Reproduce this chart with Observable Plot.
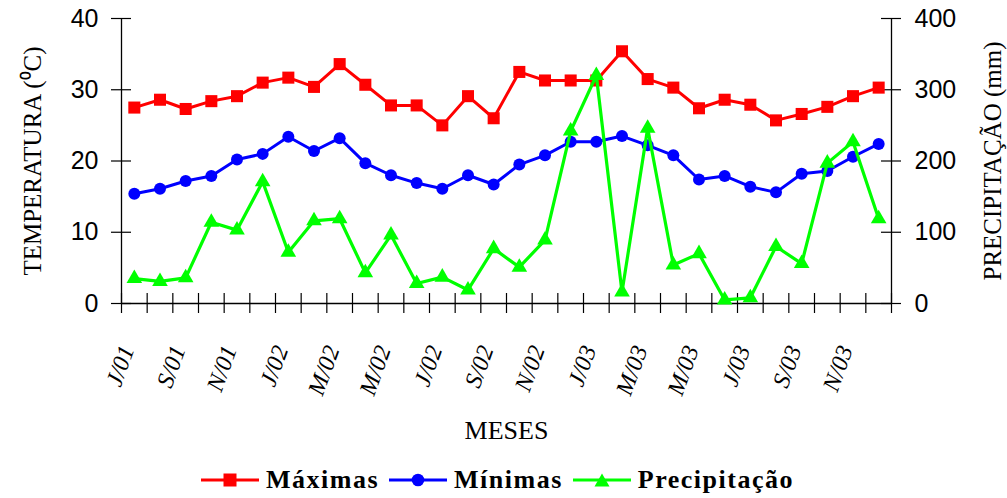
<!DOCTYPE html>
<html><head><meta charset="utf-8">
<script src="https://cdn.jsdelivr.net/npm/d3@7"></script>
<script src="https://cdn.jsdelivr.net/npm/@observablehq/plot@0.6"></script>
<style>
body{margin:0;background:#fff;}
#chart svg{display:block;overflow:visible;}
#legend{display:flex;justify-content:center;align-items:center;height:36px;font-family:"Liberation Serif","Times New Roman",serif;font-weight:bold;font-size:26px;letter-spacing:1.5px;color:#000;padding-right:12px;}
#legend .item{display:flex;align-items:center;margin:0 5px;}
#legend svg{margin-right:7px;}
</style></head><body><div id="chart"></div><div id="legend"></div>
<script>
const months = ["Jul/01","Ago/01","Set/01","Out/01","Nov/01","Dez/01","Jan/02","Fev/02","Mar/02","Abr/02","Mai/02","Jun/02","Jul/02","Ago/02","Set/02","Out/02","Nov/02","Dez/02","Jan/03","Fev/03","Mar/03","Abr/03","Mai/03","Jun/03","Jul/03","Ago/03","Set/03","Out/03","Nov/03","Dez/03"];
const tickLabels = ["J/01","S/01","N/01","J/02","M/02","M/02","J/02","S/02","N/02","J/03","M/03","M/03","J/03","S/03","N/03"];
const maximas = [27.5,28.6,27.3,28.4,29.1,31.0,31.7,30.4,33.6,30.7,27.8,27.8,25.0,29.1,26.0,32.5,31.3,31.3,31.3,35.4,31.5,30.3,27.4,28.6,27.9,25.7,26.6,27.6,29.1,30.3];
const minimas = [15.4,16.1,17.2,17.9,20.2,21.0,23.4,21.4,23.2,19.7,18.0,16.9,16.1,18.0,16.7,19.5,20.8,22.7,22.7,23.5,22.2,20.8,17.4,17.9,16.4,15.6,18.2,18.6,20.6,22.4];
const precipitacao = [35,31,36,114,103,171,72,116,119,43,96,28,37,19,77,51,89,242,320,16,246,54,70,5,8,80,56,197,227,119];
const tempTicks = [0,10,20,30,40];
const precTicks = [0,100,200,300,400];
const seriesNames = ["Máximas","Mínimas","Precipitação"];
const seriesColors = ["#FF0000","#0000FF","#00FF00"];
const seriesSymbols = ["square","circle","triangle"];

const rows = months.map((m,i)=>({i, m, max:maximas[i], min:minimas[i], prec:precipitacao[i]/10}));
const bounds = d3.range(0, months.length+1).map(k=>k-0.5);
const labelIdx = tickLabels.map((_,k)=>k*2);
const serif = "Liberation Serif, Times New Roman, serif";
const sans = "Liberation Sans, Arial, sans-serif";

const chart = Plot.plot({
  width: 1007, height: 462,
  marginLeft: 121, marginRight: 116, marginTop: 18, marginBottom: 159,
  x: {type:"linear", domain:[-0.5, months.length-0.5]},
  y: {domain:[0,40]},
  style: {background:"#fff", color:"#000"},
  marks: [
    Plot.ruleX([-0.5, months.length-0.5], {stroke:"#000", strokeWidth:1.3}),
    Plot.ruleY([0], {stroke:"#000", strokeWidth:1.3}),
    Plot.ruleX(bounds, {x:d=>d, y1:0, y2:0, insetTop:-10, insetBottom:-10, stroke:"#000", strokeWidth:1.2}),
    Plot.ruleY(tempTicks, {y:d=>d, x1:-0.5, x2:-0.5, insetLeft:-10, insetRight:-10, stroke:"#000", strokeWidth:1.2}),
    Plot.ruleY(tempTicks, {y:d=>d, x1:months.length-0.5, x2:months.length-0.5, insetLeft:-10, insetRight:-10, stroke:"#000", strokeWidth:1.2}),
    Plot.axisY({anchor:"left", ticks:tempTicks, tickSize:0, tickPadding:23, fontSize:25, fontFamily:sans, label:null}),
    Plot.axisY({anchor:"right", ticks:tempTicks, tickSize:0, tickPadding:23, fontSize:25, fontFamily:sans, tickFormat:d=>String(precTicks[tempTicks.indexOf(d)]), label:null}),
    Plot.axisX({ticks:labelIdx, tickSize:0, tickPadding:43, tickRotate:-70, fontSize:24, fontFamily:serif, fontStyle:"italic", tickFormat:d=>tickLabels[d/2], label:null, dx:-7}),
    Plot.text(["TEMPERATURA (⁰C)"], {frameAnchor:"left", dx:-89, rotate:-90, fontSize:25, fontFamily:serif, textAnchor:"middle", lineAnchor:"middle"}),
    Plot.text(["PRECIPITAÇÃO (mm)"], {frameAnchor:"right", dx:101, rotate:-90, fontSize:25, fontFamily:serif, textAnchor:"middle", lineAnchor:"middle"}),
    Plot.text(["MESES"], {frameAnchor:"bottom", dy:127, fontSize:26, fontFamily:serif, lineAnchor:"middle"}),
    Plot.line(rows, {x:"i", y:"max", stroke:seriesColors[0], strokeWidth:3}),
    Plot.dot(rows, {x:"i", y:"max", symbol:seriesSymbols[0], r:6.8, fill:seriesColors[0], stroke:"none"}),
    Plot.line(rows, {x:"i", y:"min", stroke:seriesColors[1], strokeWidth:3}),
    Plot.dot(rows, {x:"i", y:"min", symbol:seriesSymbols[1], r:6, fill:seriesColors[1], stroke:"none"}),
    Plot.line(rows, {x:"i", y:"prec", stroke:seriesColors[2], strokeWidth:3.2}),
    Plot.dot(rows, {x:"i", y:"prec", symbol:seriesSymbols[2], r:5.8, fill:seriesColors[2], stroke:"none"})
  ]
});
document.getElementById("chart").appendChild(chart);

const legend = document.getElementById("legend");
const shapes = {
  square: c=>`<rect x="22.5" y="0.5" width="13" height="13" fill="${c}"/>`,
  circle: c=>`<circle cx="29" cy="7" r="6.3" fill="${c}"/>`,
  triangle: c=>`<path d="M29,0.5 L36.5,13.5 L21.5,13.5 Z" fill="${c}"/>`
};
seriesNames.forEach((name,k)=>{
  const item = document.createElement("div");
  item.className = "item";
  item.innerHTML = `<svg width="58" height="14"><line x1="0" x2="58" y1="7" y2="7" stroke="${seriesColors[k]}" stroke-width="3"/>${shapes[seriesSymbols[k]](seriesColors[k])}</svg><span>${name}</span>`;
  legend.appendChild(item);
});
</script>
</body></html>
